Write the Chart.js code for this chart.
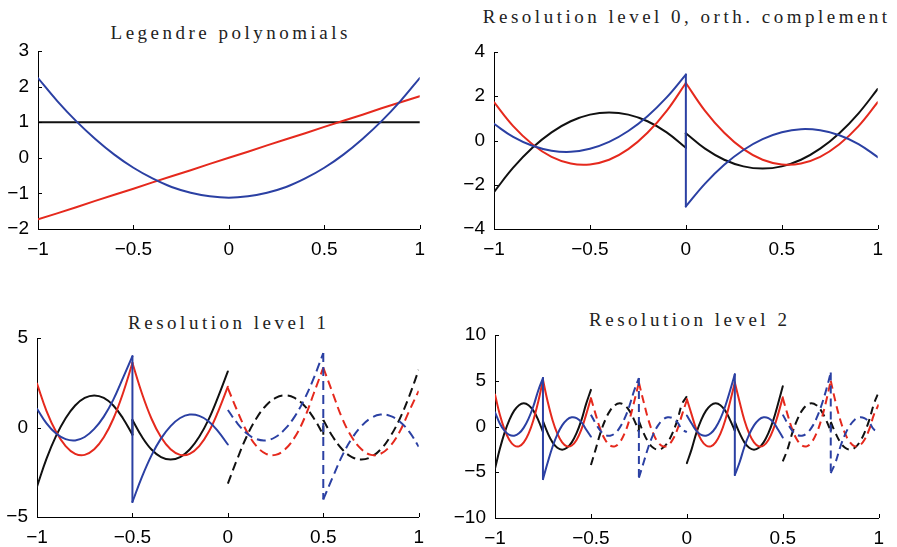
<!DOCTYPE html>
<html>
<head>
<meta charset="utf-8">
<script src="https://cdn.jsdelivr.net/npm/chart.js@4.4.1/dist/chart.umd.min.js"></script>
<style>
  html, body { margin: 0; padding: 0; background: #fff; }
  #page { position: relative; width: 897px; height: 547px; overflow: hidden; }
  canvas { position: absolute; }
  .title {
    position: absolute;
    font-family: 'Liberation Serif', 'DejaVu Serif', serif;
    font-size: 19px;
    line-height: 19px;
    letter-spacing: 3.5px;
    padding-left: 3.5px;
    color: #222;
    white-space: nowrap;
    transform: translateX(-50%);
  }
</style>
</head>
<body>
<div id="page">
  <div class="title" style="left:229px; top:23px">Legendre polynomials</div>
  <div class="title" style="left:685px; top:7px">Resolution level 0, orth. complement</div>
  <div class="title" style="left:227px; top:313px">Resolution level 1</div>
  <div class="title" style="left:688px; top:310px">Resolution level 2</div>
  <canvas id="legendre"></canvas>
  <canvas id="level0"></canvas>
  <canvas id="level1"></canvas>
  <canvas id="level2"></canvas>
</div>
<script>
// Legendre polynomials (normalised)
const legX  = [-1,-0.9,-0.8,-0.7,-0.6,-0.5,-0.4,-0.3,-0.2,-0.1,0,0.1,0.2,0.3,0.4,0.5,0.6,0.7,0.8,0.9,1];
const legP0 = [1,1,1,1,1,1,1,1,1,1,1,1,1,1,1,1,1,1,1,1,1];
const legP1 = [-1.73,-1.56,-1.39,-1.21,-1.04,-0.87,-0.69,-0.52,-0.35,-0.17,0,0.17,0.35,0.52,0.69,0.87,1.04,1.21,1.39,1.56,1.73];
const legP2 = [2.24,1.60,1.03,0.53,0.09,-0.28,-0.58,-0.82,-0.98,-1.08,-1.12,-1.08,-0.98,-0.82,-0.58,-0.28,0.09,0.53,1.03,1.60,2.24];

// level 0 wavelets, piecewise on [-1,0] and [0,1]
// (11 samples per piece, the middle x appears twice for the jump)
const lvl0X     = [-1,-0.9,-0.8,-0.7,-0.6,-0.5,-0.4,-0.3,-0.2,-0.1,0,0,0.1,0.2,0.3,0.4,0.5,0.6,0.7,0.8,0.9,1];
const lvl0Black = [-2.33,-1.23,-0.33,0.37,0.87,1.17,1.27,1.17,0.87,0.37,-0.33,0.33,-0.37,-0.87,-1.17,-1.27,-1.17,-0.87,-0.37,0.33,1.23,2.33];
const lvl0Red   = [1.73,0.65,-0.17,-0.74,-1.04,-1.08,-0.87,-0.39,0.35,1.34,2.60,2.60,1.34,0.35,-0.39,-0.87,-1.08,-1.04,-0.74,-0.17,0.65,1.73];
const lvl0Blue  = [0.75,0.16,-0.24,-0.46,-0.51,-0.37,-0.06,0.43,1.10,1.95,2.98,-2.98,-1.95,-1.10,-0.43,0.06,0.37,0.51,0.46,0.24,-0.16,-0.75];

// level 1: two translates
const lvl1XA     = [-1,-0.95,-0.9,-0.85,-0.8,-0.75,-0.7,-0.65,-0.6,-0.55,-0.5,-0.5,-0.45,-0.4,-0.35,-0.3,-0.25,-0.2,-0.15,-0.1,-0.05,0];
const lvl1BlackA = [-3.30,-1.74,-0.47,0.52,1.23,1.65,1.79,1.65,1.23,0.52,-0.40,0.42,-0.52,-1.23,-1.65,-1.79,-1.65,-1.23,-0.52,0.47,1.74,3.13];
const lvl1RedA   = [2.45,0.92,-0.24,-1.04,-1.47,-1.53,-1.22,-0.55,0.49,1.90,3.60,3.60,1.90,0.49,-0.55,-1.22,-1.53,-1.47,-1.04,-0.24,0.92,2.28];
const lvl1BlueA  = [1.05,0.23,-0.34,-0.65,-0.72,-0.53,-0.08,0.61,1.56,2.76,3.98,-4.16,-2.76,-1.56,-0.61,0.08,0.53,0.72,0.65,0.34,-0.23,-0.95];
const lvl1XB     = [0,0.05,0.1,0.15,0.2,0.25,0.3,0.35,0.4,0.45,0.5,0.5,0.55,0.6,0.65,0.7,0.75,0.8,0.85,0.9,0.95,1];
const lvl1BlackB = [-3.13,-1.74,-0.47,0.52,1.23,1.65,1.79,1.65,1.23,0.52,-0.40,0.42,-0.52,-1.23,-1.65,-1.79,-1.65,-1.23,-0.52,0.47,1.74,3.22];
const lvl1RedB   = [2.20,0.92,-0.24,-1.04,-1.47,-1.53,-1.22,-0.55,0.49,1.90,3.35,3.35,1.90,0.49,-0.55,-1.22,-1.53,-1.47,-1.04,-0.24,0.92,2.05];
const lvl1BlueB  = [0.98,0.23,-0.34,-0.65,-0.72,-0.53,-0.08,0.61,1.56,2.76,4.16,-4.02,-2.76,-1.56,-0.61,0.08,0.53,0.72,0.65,0.34,-0.23,-1.07];

// level 2: four translates
const lvl2XA     = [-1,-0.975,-0.95,-0.925,-0.9,-0.875,-0.85,-0.825,-0.8,-0.775,-0.75,-0.75,-0.725,-0.7,-0.675,-0.65,-0.625,-0.6,-0.575,-0.55,-0.525,-0.5];
const lvl2BlackA = [-4.60,-2.47,-0.67,0.73,1.73,2.33,2.53,2.33,1.73,0.73,-0.60,0.60,-0.73,-1.73,-2.33,-2.53,-2.33,-1.73,-0.73,0.67,2.47,4.00];
const lvl2RedA   = [3.50,1.30,-0.35,-1.47,-2.08,-2.17,-1.73,-0.78,0.69,2.68,5.10,5.10,2.68,0.69,-0.78,-1.73,-2.17,-2.08,-1.47,-0.35,1.30,3.10];
const lvl2BlueA  = [1.55,0.33,-0.48,-0.92,-1.01,-0.75,-0.12,0.86,2.21,3.91,5.30,-5.75,-3.91,-2.21,-0.86,0.12,0.75,1.01,0.92,0.48,-0.33,-1.10];
const lvl2XB     = [-0.5,-0.475,-0.45,-0.425,-0.4,-0.375,-0.35,-0.325,-0.3,-0.275,-0.25,-0.25,-0.225,-0.2,-0.175,-0.15,-0.125,-0.1,-0.075,-0.05,-0.025,0];
const lvl2BlackB = [-4.20,-2.47,-0.67,0.73,1.73,2.33,2.53,2.33,1.73,0.73,-0.55,0.60,-0.73,-1.73,-2.33,-2.53,-2.33,-1.73,-0.73,0.67,2.47,3.30];
const lvl2RedB   = [3.10,1.30,-0.35,-1.47,-2.08,-2.17,-1.73,-0.78,0.69,2.68,4.80,4.80,2.68,0.69,-0.78,-1.73,-2.17,-2.08,-1.47,-0.35,1.30,2.90];
const lvl2BlueB  = [1.28,0.33,-0.48,-0.92,-1.01,-0.75,-0.12,0.86,2.21,3.91,5.30,-5.60,-3.91,-2.21,-0.86,0.12,0.75,1.01,0.92,0.48,-0.33,-0.60];
const lvl2XC     = [0,0.025,0.05,0.075,0.1,0.125,0.15,0.175,0.2,0.225,0.25,0.25,0.275,0.3,0.325,0.35,0.375,0.4,0.425,0.45,0.475,0.5];
const lvl2BlackC = [-4.00,-2.47,-0.67,0.73,1.73,2.33,2.53,2.33,1.73,0.73,-0.45,0.50,-0.73,-1.73,-2.33,-2.53,-2.33,-1.73,-0.73,0.67,2.47,4.40];
const lvl2RedC   = [3.00,1.30,-0.35,-1.47,-2.08,-2.17,-1.73,-0.78,0.69,2.68,4.80,4.80,2.68,0.69,-0.78,-1.73,-2.17,-2.08,-1.47,-0.35,1.30,3.20];
const lvl2BlueC  = [1.20,0.33,-0.48,-0.92,-1.01,-0.75,-0.12,0.86,2.21,3.91,5.70,-5.30,-3.91,-2.21,-0.86,0.12,0.75,1.01,0.92,0.48,-0.33,-1.20];
const lvl2XD     = [0.5,0.525,0.55,0.575,0.6,0.625,0.65,0.675,0.7,0.725,0.75,0.75,0.775,0.8,0.825,0.85,0.875,0.9,0.925,0.95,0.975,1];
const lvl2BlackD = [-3.80,-2.47,-0.67,0.73,1.73,2.33,2.53,2.33,1.73,0.73,-0.50,0.50,-0.73,-1.73,-2.33,-2.53,-2.33,-1.73,-0.73,0.67,2.47,3.75];
const lvl2RedD   = [3.10,1.30,-0.35,-1.47,-2.08,-2.17,-1.73,-0.78,0.69,2.68,5.00,5.00,2.68,0.69,-0.78,-1.73,-2.17,-2.08,-1.47,-0.35,1.30,2.40];
const lvl2BlueD  = [1.30,0.33,-0.48,-0.92,-1.01,-0.75,-0.12,0.86,2.21,3.91,5.90,-5.10,-3.91,-2.21,-0.86,0.12,0.75,1.01,0.92,0.48,-0.33,-0.50];

const BLACK = '#111111';
const RED = '#e5291d';
const BLUE = '#2b40a3';

const PAD_L = 48, PAD_T = 26, PAD_R = 14, PAD_B = 36;
const tickFont = { family: "'Liberation Sans', Arial, sans-serif", size: 19 };
const fmt = v => (v < 0 ? '\u2212' : '') + Math.abs(v);

function pts(xs, ys) {
  return xs.map((x, i) => ({ x: x, y: ys[i] }));
}

function line(xs, ys, color, dash, tension) {
  return {
    data: pts(xs, ys),
    showLine: true,
    borderColor: color,
    borderWidth: 2,
    borderDash: dash || [],
    borderCapStyle: dash ? 'butt' : 'round',
    pointRadius: 0,
    tension: tension,
    fill: false,
    // blue on top, then red, then black
    order: color === BLUE ? 1 : color === RED ? 2 : 3
  };
}

// a wavelet is two smooth quadratic pieces plus the jump between them
function wavelet(xs, ys, color, dash) {
  const m = xs.length / 2;
  return [
    line(xs.slice(0, m), ys.slice(0, m), color, dash, 0.4),
    line(xs.slice(m - 1, m + 1), ys.slice(m - 1, m + 1), color, dash, 0),
    line(xs.slice(m), ys.slice(m), color, dash, 0.4)
  ];
}

// short tick marks pointing into the plot, matlab style
const innerTicks = {
  id: 'innerTicks',
  afterDraw(chart) {
    const { ctx, chartArea: a, scales: { x, y } } = chart;
    ctx.save();
    ctx.strokeStyle = '#000';
    ctx.lineWidth = 1;
    ctx.beginPath();
    x.ticks.forEach(t => {
      const px = Math.round(x.getPixelForValue(t.value)) + 0.5;
      ctx.moveTo(px, a.bottom);
      ctx.lineTo(px, a.bottom - 4);
    });
    y.ticks.forEach(t => {
      const py = Math.round(y.getPixelForValue(t.value)) + 0.5;
      ctx.moveTo(a.left, py);
      ctx.lineTo(a.left + 4, py);
    });
    ctx.stroke();
    ctx.restore();
  }
};

function makePanel(id, area, yMin, yMax, yStep, datasets) {
  const [l, t, r, b] = area;
  const canvas = document.getElementById(id);
  canvas.width = r - l + PAD_L + PAD_R;
  canvas.height = b - t + PAD_T + PAD_B;
  canvas.style.left = (l - PAD_L) + 'px';
  canvas.style.top = (t - PAD_T) + 'px';

  const axis = { display: true, color: '#000', width: 1 };
  return new Chart(canvas, {
    type: 'scatter',
    data: { datasets: datasets },
    options: {
      responsive: false,
      animation: false,
      devicePixelRatio: 1,
      layout: { padding: { left: 0, top: PAD_T, right: PAD_R, bottom: 0 } },
      plugins: { legend: { display: false }, tooltip: { enabled: false } },
      scales: {
        x: {
          type: 'linear', min: -1, max: 1,
          grid: { display: false, drawTicks: false },
          border: axis,
          ticks: { stepSize: 0.5, callback: fmt, color: '#000', font: tickFont, padding: 9, maxRotation: 0, autoSkip: false },
          afterFit: s => { s.height = PAD_B; }
        },
        y: {
          type: 'linear', min: yMin, max: yMax,
          grid: { display: false, drawTicks: false },
          border: axis,
          ticks: { stepSize: yStep, callback: fmt, color: '#000', font: tickFont, padding: 9, autoSkip: false },
          afterFit: s => { s.width = PAD_L; }
        }
      }
    },
    plugins: [innerTicks]
  });
}

const D1 = [9, 5];
const D2 = [8, 5];

makePanel('legendre', [38, 51, 420, 229], -2, 3, 1, [
  line(legX, legP0, BLACK, null, 0),
  line(legX, legP1, RED, null, 0),
  line(legX, legP2, BLUE, null, 0.4)
]);

makePanel('level0', [494, 52, 878, 229], -4, 4, 2, [
  ...wavelet(lvl0X, lvl0Black, BLACK),
  ...wavelet(lvl0X, lvl0Red, RED),
  ...wavelet(lvl0X, lvl0Blue, BLUE)
]);

makePanel('level1', [37, 338, 419, 517], -5, 5, 5, [
  ...wavelet(lvl1XA, lvl1BlackA, BLACK),
  ...wavelet(lvl1XA, lvl1RedA, RED),
  ...wavelet(lvl1XA, lvl1BlueA, BLUE),
  ...wavelet(lvl1XB, lvl1BlackB, BLACK, D1),
  ...wavelet(lvl1XB, lvl1RedB, RED, D1),
  ...wavelet(lvl1XB, lvl1BlueB, BLUE, D1)
]);

makePanel('level2', [495, 335, 879, 518], -10, 10, 5, [
  ...wavelet(lvl2XA, lvl2BlackA, BLACK),
  ...wavelet(lvl2XA, lvl2RedA, RED),
  ...wavelet(lvl2XA, lvl2BlueA, BLUE),
  ...wavelet(lvl2XB, lvl2BlackB, BLACK, D2),
  ...wavelet(lvl2XB, lvl2RedB, RED, D2),
  ...wavelet(lvl2XB, lvl2BlueB, BLUE, D2),
  ...wavelet(lvl2XC, lvl2BlackC, BLACK),
  ...wavelet(lvl2XC, lvl2RedC, RED),
  ...wavelet(lvl2XC, lvl2BlueC, BLUE),
  ...wavelet(lvl2XD, lvl2BlackD, BLACK, D2),
  ...wavelet(lvl2XD, lvl2RedD, RED, D2),
  ...wavelet(lvl2XD, lvl2BlueD, BLUE, D2)
]);
</script>
</body>
</html>
